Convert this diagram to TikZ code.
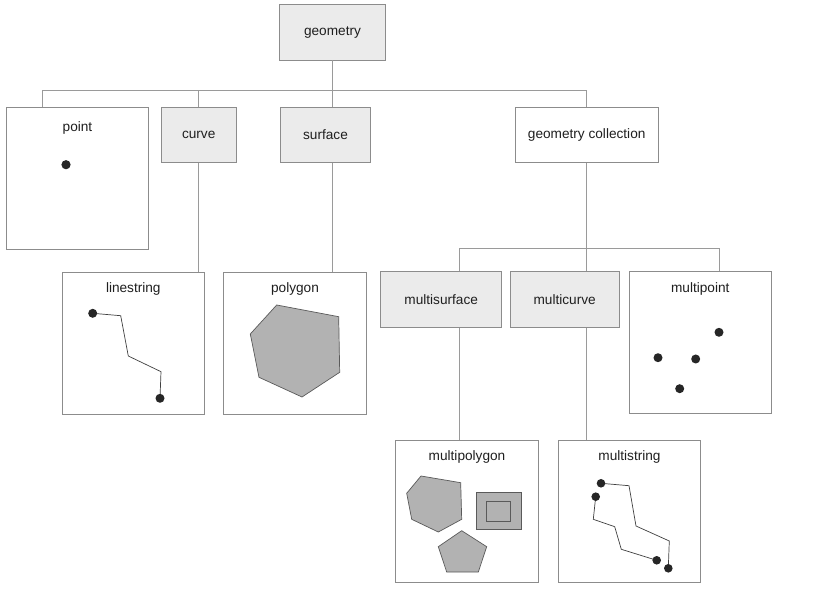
\documentclass[tikz,border=0pt]{standalone}
\usepackage{fontspec}
\setmainfont{Liberation Sans}
\usetikzlibrary{calc}

\definecolor{boxline}{HTML}{8C8C8C}
\definecolor{linkline}{HTML}{9A9A9A}
\definecolor{boxfill}{HTML}{EBEBEB}
\definecolor{geomfill}{HTML}{B2B2B2}
\definecolor{geomline}{HTML}{5A5A5A}
\definecolor{dotcol}{HTML}{262626}

\tikzset{
  abstract/.style={draw=boxline, fill=boxfill, line width=0.7pt,
    minimum height=1.39cm, inner sep=0pt},
  concrete/.style={draw=boxline, fill=white, line width=0.7pt,
    minimum width=3.55cm, minimum height=3.55cm, inner sep=0pt},
  lbl/.style={anchor=center, yshift=-12.3pt},
  link/.style={draw=linkline, line width=0.7pt},
  area/.style={fill=geomfill, draw=geomline, line width=0.5pt},
  path/.style={draw=black!75, line width=0.5pt},
  dot/.style={fill=dotcol}
}

\begin{document}
\begin{tikzpicture}[x=0.025cm, y=-0.025cm, font=\fontsize{9.7}{11}\selectfont, text=black!88]
\useasboundingbox (0,0) rectangle (818,597);

% abstract types
\node[abstract, minimum width=2.66cm] (geometry) at (332.5,32.2) {geometry};
\node[abstract, minimum width=1.87cm] (curve) at (198.7,135) {curve};
\node[abstract, minimum width=2.225cm] (surface) at (325.5,135) {surface};
\node[abstract, minimum width=3.025cm] (msurface) at (441.2,299.5) {multisurface};
\node[abstract, minimum width=2.72cm] (mcurve) at (564.7,299.5) {multicurve};
\node[draw=boxline, fill=white, line width=0.7pt, minimum width=3.58cm,
  minimum height=1.375cm, inner sep=0pt] (gc) at (586.7,135) {geometry collection};

% concrete types
\node[concrete, label={[lbl, yshift=-2.8pt]north:point}] (pointbox) at (77.5,178.2) {};
\node[concrete, label={[lbl]north:linestring}] (lstring) at (133.3,343.2) {};
\node[concrete, label={[lbl]north:polygon}] (poly) at (295,343.2) {};
\node[concrete, label={[lbl]north:multipoint}] (mpoint) at (700.3,342.7) {};
\node[concrete, label={[lbl]north:multipolygon}] (mpoly) at (467,511.3) {};
\node[concrete, label={[lbl]north:multistring}] (mstring) at (629.5,511.3) {};

% connectors
\draw[link] (geometry.south) -- (geometry.south |- surface.north);
\draw[link] ($(pointbox.north west)+(36.6,0)$) -- ++(0,-16.6) -| (gc.north);
\draw[link] (curve.north) -- ++(0,-16.6);
\draw[link] (curve.south) -- (curve.south |- lstring.north);
\draw[link] (geometry.south |- surface.south) -- (geometry.south |- poly.north);
\draw[link] (gc.south) -- (gc.south |- mcurve.north);
\draw[link] ($(msurface.north)+(18.1,0)$) -- ++(0,-23) -| ($(mpoint.north)+(19,0)$);
\draw[link] ($(msurface.south)+(18.1,0)$) -- ($(msurface.south |- mpoly.north)+(18.1,0)$);
\draw[link] (gc.south |- mcurve.south) -- (gc.south |- mstring.north);

% point
\fill[dot] (66,164.7) circle (4.6);

% linestring
\draw[path] (92.7,313.3) -- (120.7,315.7) -- (128.3,356) -- (161,371.7) -- (160,398.3);
\foreach \p in {(92.7,313.3),(160,398.3)}
  \fill[dot] \p circle (4.5);

% polygon
\draw[area] (276.7,305) -- (338.7,316.7) -- (339.7,372.3) -- (302,397)
  -- (259,377.3) -- (250.3,334) -- cycle;

% multipoint
\foreach \p in {(719,332.3),(658,357.7),(695.7,359),(679.7,388.7)}
  \fill[dot] \p circle (4.5);

% multipolygon
\draw[area] (421,476) -- (460.7,482.7) -- (461.7,519.3) -- (438.3,532)
  -- (411.7,519.3) -- (406.7,493.3) -- cycle;
\draw[area] (476,492.7) rectangle (521,529.7);
\draw[area] (486,501) rectangle (510.7,521.3);
\draw[area] (461.7,530.7) -- (486.7,546.7) -- (478.3,572) -- (446.7,572)
  -- (438.3,546.7) -- cycle;

% multistring
\draw[path] (601,483.3) -- (629,485.7) -- (636,526) -- (669.3,541) -- (668.3,568.3);
\draw[path] (595.7,496.7) -- (593.3,519.3) -- (614.7,526.7) -- (621.3,549.3) -- (656.7,560.3);
\foreach \p in {(601,483.3),(668.3,568.3),(595.7,496.7),(656.7,560.3)}
  \fill[dot] \p circle (4.3);
\end{tikzpicture}
\end{document}
